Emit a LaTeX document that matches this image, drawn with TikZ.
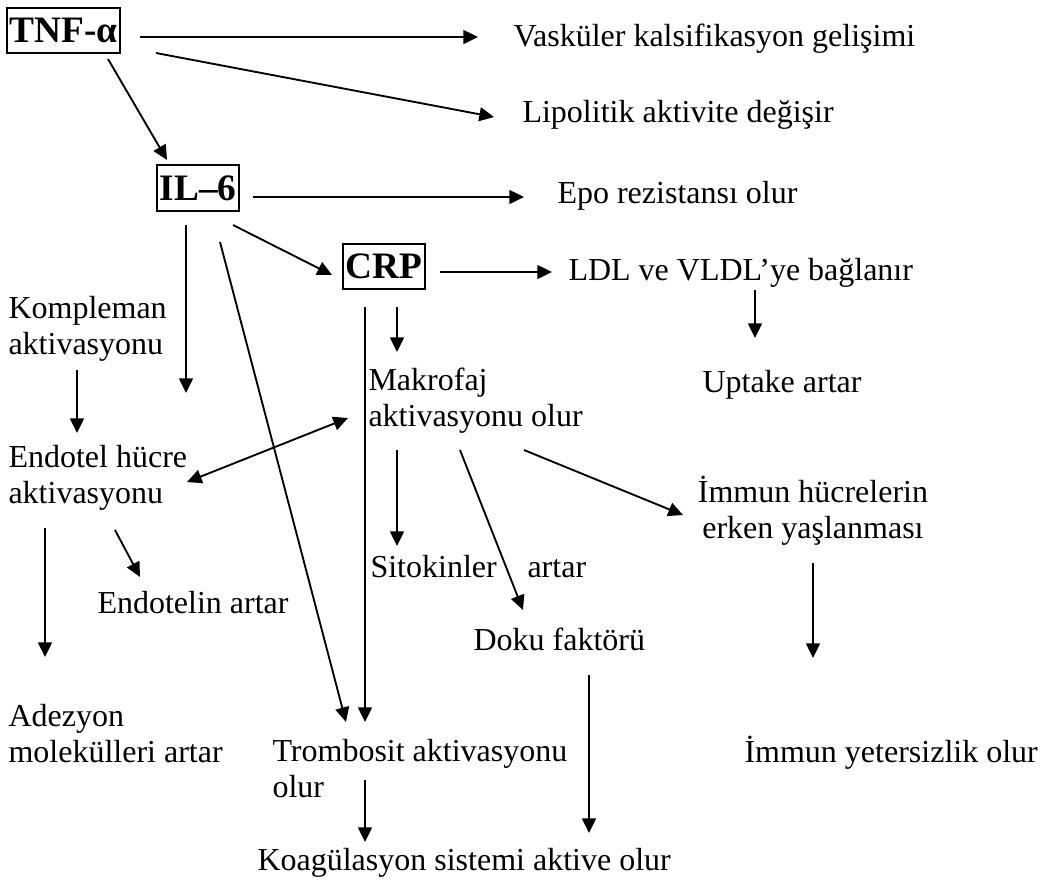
\documentclass[tikz,border=0pt]{standalone}
\usepackage{fontspec}
\setmainfont{Liberation Serif}
\usetikzlibrary{arrows.meta}

\tikzset{
  txt/.style={inner sep=0pt, anchor=base west, align=left, font=\fontsize{12pt}{13.5pt}\selectfont},
  kutu/.style={draw, line width=0.75pt, inner xsep=1pt, inner ysep=0pt, minimum height=17pt, font=\fontsize{14pt}{16pt}\selectfont\bfseries},
  ok/.style={-{Triangle[length=5.5pt,width=5.2pt]}, line width=0.7pt},
  ikiok/.style={{Triangle[length=5.5pt,width=5.2pt]}-{Triangle[length=5.5pt,width=5.2pt]}, line width=0.7pt}
}

\begin{document}
\begin{tikzpicture}[x=0.375pt, y=-0.375pt]
			%%%%% START %%%%%
			\useasboundingbox (0,0) rectangle (1044,880);
			
			\node[kutu] (tnf) at (63.5,30.5) {TNF-α};
			\node[kutu] (il6) at (198,188) {IL–6};
			\node[kutu] (crp) at (384,266.5) {CRP};
			
			\node[txt] (vask) at (513,46) {Vasküler kalsifikasyon gelişimi};
			\node[txt] (lipo) at (522,122) {Lipolitik aktivite değişir};
			\node[txt] (epo) at (557,203) {Epo rezistansı olur};
			\node[txt] (ldl) at (568,280) {LDL ve VLDL’ye bağlanır};
			\node[txt] (upt) at (702,392) {Uptake artar};
			
			% multi-line nodes: base = last line
			\node[txt] (komp) at (8,354) {Kompleman\\aktivasyonu};
			\node[txt] (endo) at (8,503) {Endotel hücre\\aktivasyonu};
			\node[txt] (etln) at (97,613) {Endotelin artar};
			\node[txt] (adez) at (8,762) {Adezyon\\molekülleri artar};
			
			\node[txt] (makro) at (368,426) {Makrofaj\\aktivasyonu olur};
			\node[txt] (sito) at (370,577) {Sitokinler};
			\node[txt] (artar) at (527,577) {artar};
			\node[txt] (doku) at (473,650) {Doku faktörü};
			\node[txt] (tromb) at (272,797) {Trombosit aktivasyonu\\olur};
			\node[txt] (koag) at (257,870) {Koagülasyon sistemi aktive olur};
			
			\node[txt, anchor=base, align=center] (imm) at (813,538) {İmmun hücrelerin\\erken yaşlanması};
			\node[txt] (yet) at (744,762) {İmmun yetersizlik olur};
			
			% arrow ends
			\coordinate (tnf-a) at (140,37);   \coordinate (vask-a) at (478,37);
			\coordinate (tnf-b) at (156,53);   \coordinate (lipo-a) at (494,117);
			\coordinate (tnf-c) at (108,59);   \coordinate (il6-a) at (167,160);
			\coordinate (il6-b) at (253,197);  \coordinate (epo-a) at (524,197);
			\coordinate (il6-c) at (233,225);  \coordinate (crp-a) at (332,275);
			\coordinate (il6-d) at (186,225);  \coordinate (il6-e) at (186,393);
			\coordinate (il6-f) at (220,242);  \coordinate (tromb-a) at (346,722);
			\coordinate (crp-b) at (440,272);  \coordinate (ldl-a) at (552,272);
			\coordinate (crp-c) at (365,307);  \coordinate (tromb-b) at (365,722);
			\coordinate (crp-d) at (397,307);  \coordinate (makro-a) at (397,352);
			\coordinate (ldl-b) at (755,290);  \coordinate (upt-a) at (755,338);
			\coordinate (komp-a) at (77,370);  \coordinate (endo-a) at (77,433);
			\coordinate (endo-b) at (187,482); \coordinate (makro-b) at (348,418);
			\coordinate (endo-c) at (115,530); \coordinate (etln-a) at (140,577);
			\coordinate (endo-d) at (45,528);  \coordinate (adez-a) at (45,657);
			\coordinate (makro-c) at (397,450); \coordinate (sito-a) at (397,546);
			\coordinate (makro-d) at (460,450); \coordinate (doku-a) at (523,610);
			\coordinate (makro-e) at (524,450); \coordinate (imm-a) at (683,515);
			\coordinate (imm-b) at (813,563);  \coordinate (yet-a) at (813,658);
			\coordinate (tromb-c) at (365,780); \coordinate (koag-a) at (365,842);
			\coordinate (doku-b) at (589,675); \coordinate (koag-b) at (589,833);
			
			\draw[ok] (tnf-a) -- (vask-a);
			\draw[ok] (tnf-b) -- (lipo-a);
			\draw[ok] (tnf-c) -- (il6-a);
			
			\draw[ok] (il6-b) -- (epo-a);
			\draw[ok] (il6-c) -- (crp-a);
			\draw[ok] (il6-d) -- (il6-e);
			\draw[ok] (il6-f) -- (tromb-a);
			
			\draw[ok] (crp-b) -- (ldl-a);
			\draw[ok] (crp-c) -- (tromb-b);
			\draw[ok] (crp-d) -- (makro-a);
			\draw[ok] (ldl-b) -- (upt-a);
			
			\draw[ok] (komp-a) -- (endo-a);
			\draw[ikiok] (endo-b) -- (makro-b);
			\draw[ok] (endo-c) -- (etln-a);
			\draw[ok] (endo-d) -- (adez-a);
			
			\draw[ok] (makro-c) -- (sito-a);
			\draw[ok] (makro-d) -- (doku-a);
			\draw[ok] (makro-e) -- (imm-a);
			\draw[ok] (imm-b) -- (yet-a);
			
			\draw[ok] (tromb-c) -- (koag-a);
			\draw[ok] (doku-b) -- (koag-b);
			
			%%%%% END %%%%%
\end{tikzpicture}
\end{document}
